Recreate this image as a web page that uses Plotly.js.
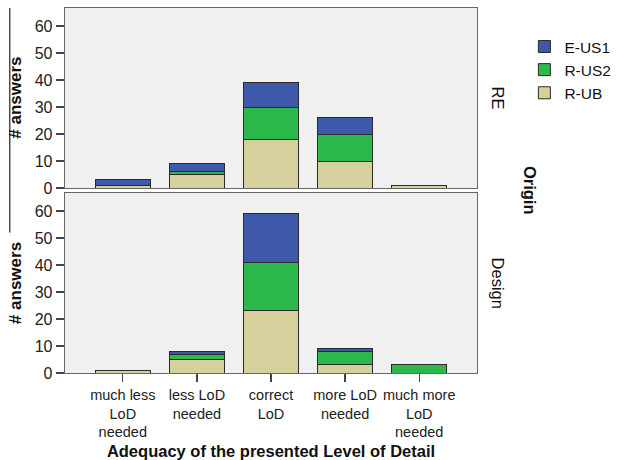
<!DOCTYPE html>
<html>
<head>
<meta charset="utf-8">
<script src="https://cdn.plot.ly/plotly-3.0.1.min.js"></script>
<style>html,body{margin:0;padding:0;background:#fff;}#chart{width:624px;height:460px;}</style>
</head>
<body>
<div id="chart"></div>
<script>
var categories = ["much less<br>LoD<br>needed", "less LoD<br>needed", "correct<br>LoD", "more LoD<br>needed", "much more<br>LoD<br>needed"];
var seriesNames = ["R-UB", "R-US2", "E-US1"];
var colors = ["#d5d09c", "#2db84b", "#3e59aa"];

// Origin = RE (top panel)
var reRUB  = [1, 5, 18, 10, 1];
var reRUS2 = [0, 1, 12, 10, 0];
var reEUS1 = [2, 3, 9, 6, 0];

// Origin = Design (bottom panel)
var deRUB  = [1, 5, 23, 3, 0];
var deRUS2 = [0, 2, 18, 5, 3];
var deEUS1 = [0, 1, 18, 1, 0];

var yTicks = [0, 10, 20, 30, 40, 50, 60];

var reData = [reRUB, reRUS2, reEUS1];
var deData = [deRUB, deRUS2, deEUS1];
var traces = [];
function nz(arr){ return arr.map(function(v){ return v === 0 ? null : v; }); }
for (var i = 0; i < 3; i++) {
  traces.push({type:'bar', x: categories, y: nz(reData[i]), name: seriesNames[i], xaxis:'x', yaxis:'y',
    marker:{color: colors[i], line:{color:'#2a2a2a', width:1}}, width:0.745, showlegend:true, legendgroup:seriesNames[i], hoverinfo:'skip'});
}
for (var i = 0; i < 3; i++) {
  traces.push({type:'bar', x: categories, y: nz(deData[i]), name: seriesNames[i], xaxis:'x2', yaxis:'y2',
    marker:{color: colors[i], line:{color:'#2a2a2a', width:1}}, width:0.745, showlegend:false, legendgroup:seriesNames[i], hoverinfo:'skip'});
}

var fontFam = 'Arial, "Liberation Sans", sans-serif';
var yax = {range:[0, 66.7], tickvals: yTicks, ticks:'outside', ticklen:8, tickwidth:1.3, tickcolor:'#444',
  showline:true, linecolor:'#666', linewidth:1.3, mirror:true, showgrid:false, zeroline:false,
  tickfont:{family:fontFam, size:16, color:'#222'}, fixedrange:true};
var layout = {
  width:624, height:460,
  margin:{l:65, r:140, t:8, b:87},
  paper_bgcolor:'#ffffff', plot_bgcolor:'#f0f0f0',
  barmode:'stack', bargap:0.25,
  font:{family:fontFam, color:'#111'},
  xaxis:{domain:[0,1], anchor:'y', range:[-0.78, 4.78], showticklabels:false, ticks:'', showline:true, linecolor:'#666', linewidth:1.3, mirror:true, showgrid:false, fixedrange:true},
  yaxis:Object.assign({}, yax, {domain:[0.5068, 1], anchor:'x'}),
  xaxis2:{domain:[0,1], anchor:'y2', range:[-0.78, 4.78], ticks:'outside', ticklen:8, tickwidth:1.3, tickcolor:'#444', showline:true, linecolor:'#666', linewidth:1.3, mirror:true, showgrid:false,
    tickfont:{family:fontFam, size:14.5, color:'#222'}, fixedrange:true,
    title:{text:'<b>Adequacy of the presented Level of Detail</b>', font:{family:fontFam, size:16.5, color:'#111'}, standoff:8}},
  yaxis2:Object.assign({}, yax, {domain:[0, 0.4932], anchor:'x2'}),
  legend:{x:1.115, xanchor:'left', y:0.94, yanchor:'top', traceorder:'reversed', font:{family:fontFam, size:15.5, color:'#111'}, itemwidth:30, tracegroupgap:0, bgcolor:'rgba(0,0,0,0)'},
  annotations:[
    {text:'<b># answers</b>', xref:'paper', yref:'paper', x:-0.12, y:0.753, xanchor:'center', yanchor:'middle', textangle:-90, showarrow:false, font:{family:fontFam, size:17, color:'#111'}},
    {text:'<b># answers</b>', xref:'paper', yref:'paper', x:-0.12, y:0.245, xanchor:'center', yanchor:'middle', textangle:-90, showarrow:false, font:{family:fontFam, size:17, color:'#111'}},
    {text:'RE', xref:'paper', yref:'paper', x:1.05, y:0.753, xanchor:'center', yanchor:'middle', textangle:90, showarrow:false, font:{family:fontFam, size:16.5, color:'#111'}},
    {text:'Design', xref:'paper', yref:'paper', x:1.05, y:0.246, xanchor:'center', yanchor:'middle', textangle:90, showarrow:false, font:{family:fontFam, size:16.5, color:'#111'}},
    {text:'<b>Origin</b>', xref:'paper', yref:'paper', x:1.13, y:0.50, xanchor:'center', yanchor:'middle', textangle:90, showarrow:false, font:{family:fontFam, size:16.5, color:'#111'}}
  ],
  shapes:[
    {type:'line', xref:'paper', yref:'paper', x0:-0.134, x1:-0.134, y0:1.0, y1:0.385, line:{color:'#222', width:1.2}}
  ]
};
Plotly.newPlot('chart', traces, layout, {staticPlot:true, displayModeBar:false});
</script>
</body>
</html>
